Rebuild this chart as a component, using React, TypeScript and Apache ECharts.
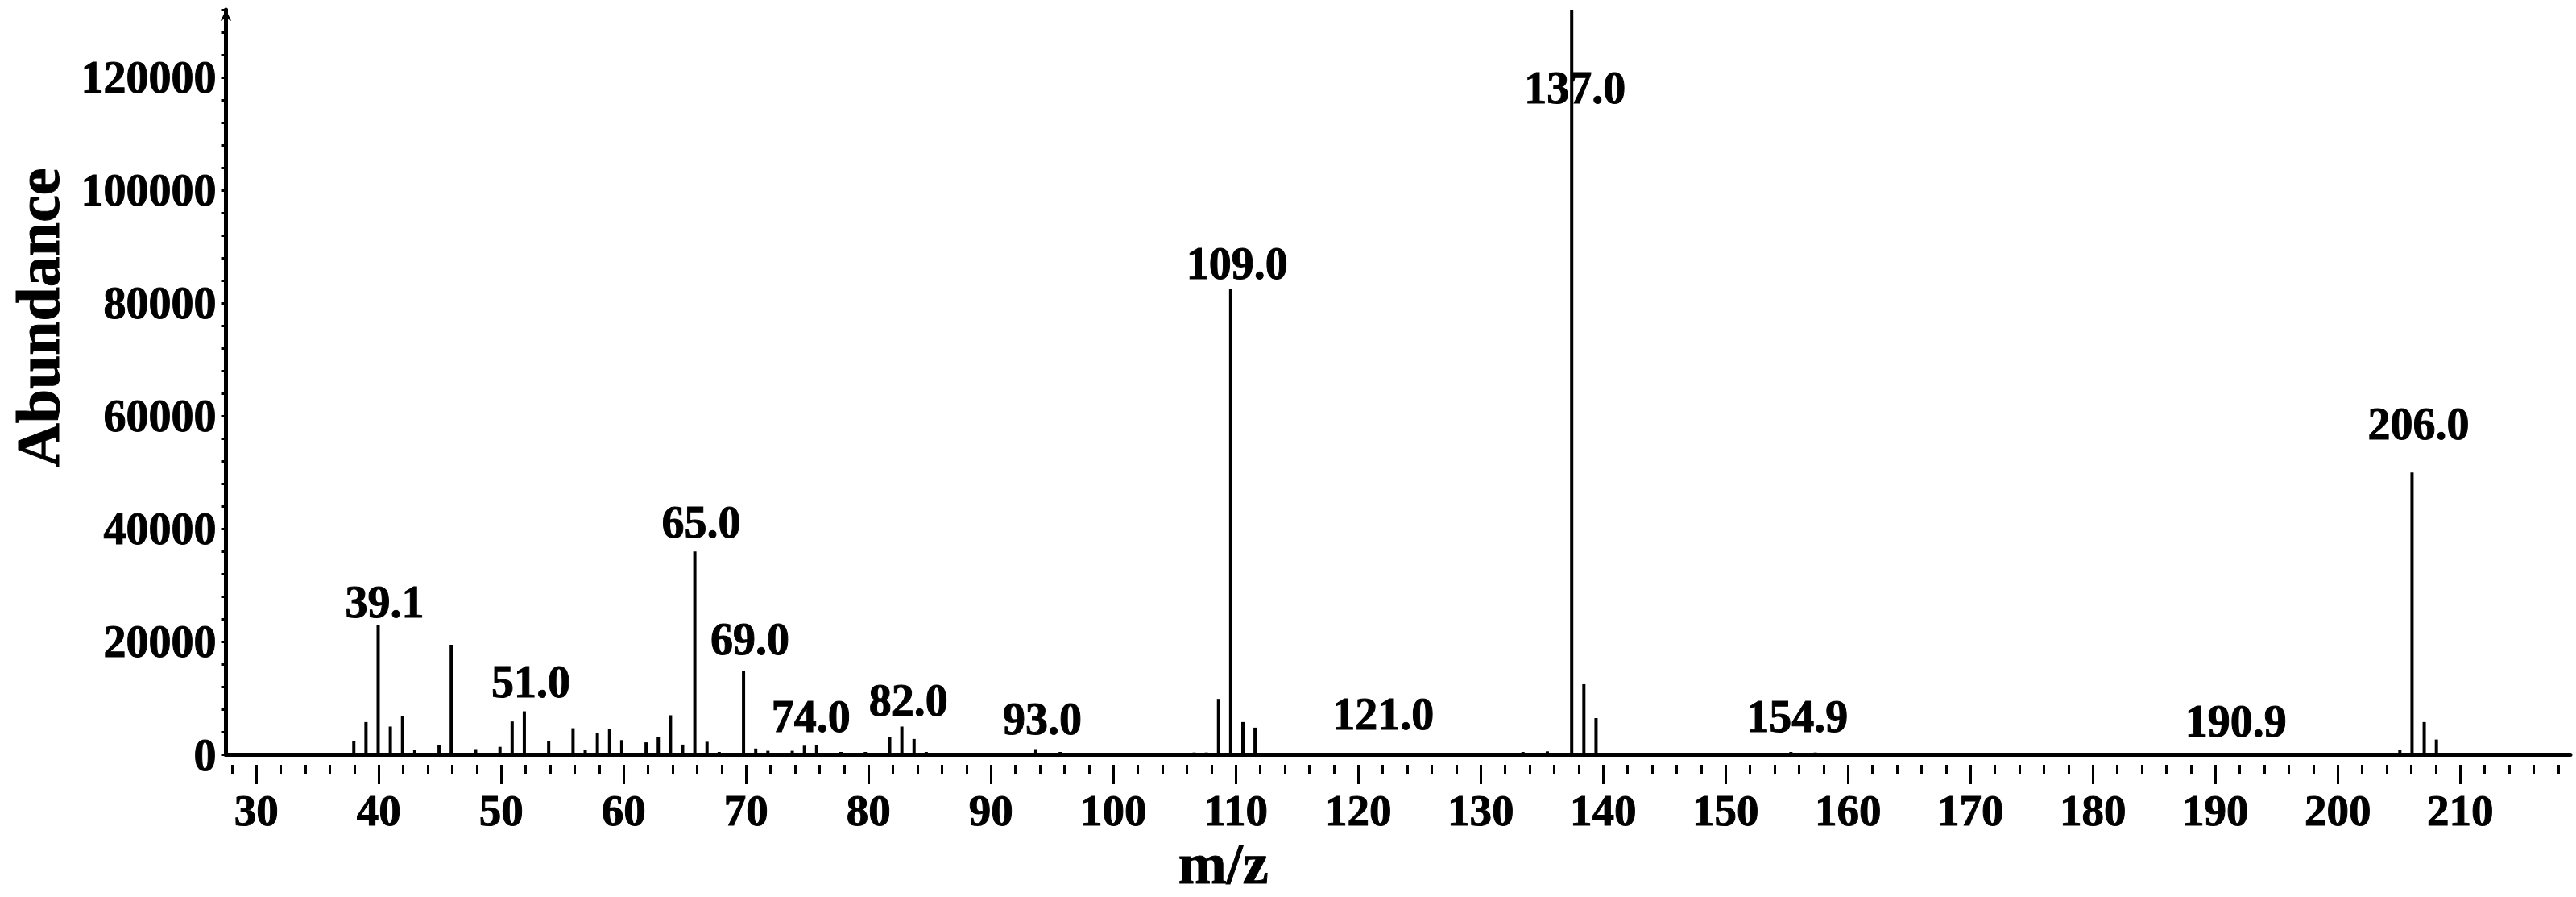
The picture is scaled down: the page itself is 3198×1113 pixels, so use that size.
import React, { useEffect, useRef } from "react";
import * as echarts from "echarts";

// ---- data ----
const mz = [
  37, 38, 39, 40, 41, 42, 44, 45, 46, 47, 49, 50, 51, 53, 55, 56, 57, 58, 59, 60,
  61, 62, 63, 64, 65, 66, 67, 69, 70, 71, 73, 74, 75, 77, 79, 81, 82, 83, 84, 93,
  95, 96, 97, 98, 106, 107, 108, 109, 110, 111, 113, 119, 121, 133, 135, 137, 138,
  139, 140, 155, 157, 191, 205, 206, 207, 208, 209,
];
const abundance = [
  2400, 5800, 23000, 5000, 6900, 800, 1700, 19500, 300, 1000, 1400, 5900, 7700, 2400,
  4700, 800, 3900, 4500, 2600, 300, 2200, 3100, 7000, 1800, 36000, 2300, 500, 14800,
  1100, 700, 700, 1600, 1700, 500, 500, 3200, 5000, 2800, 500, 1000, 500, 300, 300,
  300, 400, 400, 9900, 82500, 5800, 4800, 300, 300, 300, 500, 600, 132000, 12500,
  6500, 300, 500, 400, 300, 900, 50000, 5800, 2700, 300,
];
const labelMz = [39, 51, 65, 69, 74, 82, 93, 109, 121, 137, 155, 191, 206];
const labelText = [
  "39.1", "51.0", "65.0", "69.0", "74.0", "82.0", "93.0", "109.0", "121.0",
  "137.0", "154.9", "190.9", "206.0",
];
const xMajorTicks = [30, 210, 10]; // first, last, step
const yTicks = [0, 132000, 20000];

// ---- layout / style ----
const W = 3198;
const H = 1113;
const X_MIN = 26.5;
const X_MAX = 219;
const PLOT_LEFT = 265;
const PLOT_RIGHT = 3191;
const PLOT_TOP = 12;
const AXIS_Y = 949;
const FONT = "'Liberation Serif', 'Times New Roman', serif";
const PEAK_FONT = 56;
const BOLDER = { textBorderColor: "#000", textBorderWidth: 1 };
const labelGap: Record<number, number> = {
  39: 0, 51: 9, 65: 8, 69: 12, 74: 8, 82: 4, 93: 9, 109: 4, 121: 20, 155: 16, 191: 11, 206: 32,
};

export default function App() {
  const ref = useRef<HTMLDivElement>(null);
  useEffect(() => {
    if (!ref.current) return;
    const chart = echarts.init(ref.current, null, { renderer: "svg" });
    const k = (PLOT_RIGHT - PLOT_LEFT) / (X_MAX - X_MIN);
    const gx = (v: number) => PLOT_LEFT + (v - X_MIN) * k;
    const plotH = AXIS_Y - PLOT_TOP;

    const data = mz.map((m, i) => {
      const li = labelMz.indexOf(m);
      const item: any = { value: [m, abundance[i]] };
      if (li >= 0) {
        const is137 = m === 137;
        item.label = {
          show: true,
          formatter: labelText[li],
          position: is137 ? "insideTop" : "top",
          distance: is137 ? 69 : labelGap[m] ?? 9,
          offset: is137 ? [4, 0] : [8, 0],
          fontSize: PEAK_FONT,
          lineHeight: PEAK_FONT,
          fontWeight: "bold",
          fontFamily: FONT,
          color: "#000",
          ...BOLDER,
        };
      }
      return item;
    });

    const hiddenY = (gi: number) => ({
      type: "value",
      gridIndex: gi,
      show: false,
      min: 0,
      max: 1,
    });

    chart.setOption({
      animation: false,
      backgroundColor: "#fff",
      grid: [
        { left: PLOT_LEFT, top: PLOT_TOP, width: PLOT_RIGHT - PLOT_LEFT, height: plotH },
        { left: gx(xMajorTicks[0]), top: PLOT_TOP, width: (xMajorTicks[1] - xMajorTicks[0]) * k, height: plotH },
        { left: gx(28), top: PLOT_TOP, width: (218 - 28) * k, height: plotH },
      ],
      xAxis: [
        {
          type: "value",
          gridIndex: 0,
          min: X_MIN,
          max: X_MAX,
          name: "m/z",
          nameLocation: "middle",
          nameGap: 99,
          nameTextStyle: {
            fontSize: 72,
            lineHeight: 72,
            fontWeight: "bold",
            fontFamily: FONT,
            color: "#000",
            padding: [0, 434, 0, 0],
            ...BOLDER,
          },
          axisLine: { show: true, lineStyle: { color: "#000", width: 5 } },
          axisTick: { show: false },
          axisLabel: { show: false },
          splitLine: { show: false },
        },
        {
          type: "value",
          gridIndex: 1,
          min: xMajorTicks[0],
          max: xMajorTicks[1],
          interval: xMajorTicks[2],
          axisLine: { show: false },
          axisTick: { show: true, length: 24, lineStyle: { color: "#000", width: 3 } },
          axisLabel: {
            show: true,
            margin: 29,
            fontSize: 55,
            lineHeight: 55,
            fontWeight: "bold",
            fontFamily: FONT,
            color: "#000",
            ...BOLDER,
          },
          splitLine: { show: false },
        },
        {
          type: "value",
          gridIndex: 2,
          min: 28,
          max: 218,
          interval: 2,
          axisLine: { show: false },
          axisTick: { show: true, length: 11, lineStyle: { color: "#000", width: 3 } },
          axisLabel: { show: false },
          splitLine: { show: false },
        },
      ],
      yAxis: [
        {
          type: "value",
          gridIndex: 0,
          min: yTicks[0],
          max: yTicks[1],
          interval: 4000,
          name: "Abundance",
          nameLocation: "middle",
          nameGap: 196,
          nameTextStyle: {
            fontSize: 76,
            lineHeight: 76,
            fontWeight: "bold",
            fontFamily: FONT,
            color: "#000",
            padding: [0, 0, 0, 160],
            ...BOLDER,
          },
          axisLine: {
            show: true,
            symbol: ["none", "arrow"],
            symbolSize: [10, 14],
            lineStyle: { color: "#000", width: 5 },
          },
          axisTick: { show: true, length: 6, lineStyle: { color: "#000", width: 3 } },
          axisLabel: {
            show: true,
            margin: 12,
            fontSize: 56,
            lineHeight: 56,
            fontWeight: "bold",
            fontFamily: FONT,
            color: "#000",
            ...BOLDER,
            formatter: (v: number) => (v % yTicks[2] === 0 ? String(v) : ""),
          },
          splitLine: { show: false },
        },
        hiddenY(1),
        hiddenY(2),
      ],
      series: [
        {
          type: "bar",
          xAxisIndex: 0,
          yAxisIndex: 0,
          barWidth: 4,
          itemStyle: { color: "#000" },
          data,
        },
      ],
    });
    return () => chart.dispose();
  }, []);
  return (
    <div
      ref={ref}
      style={{ position: "fixed", left: 0, top: 0, width: W, height: H, background: "#fff" }}
    />
  );
}
